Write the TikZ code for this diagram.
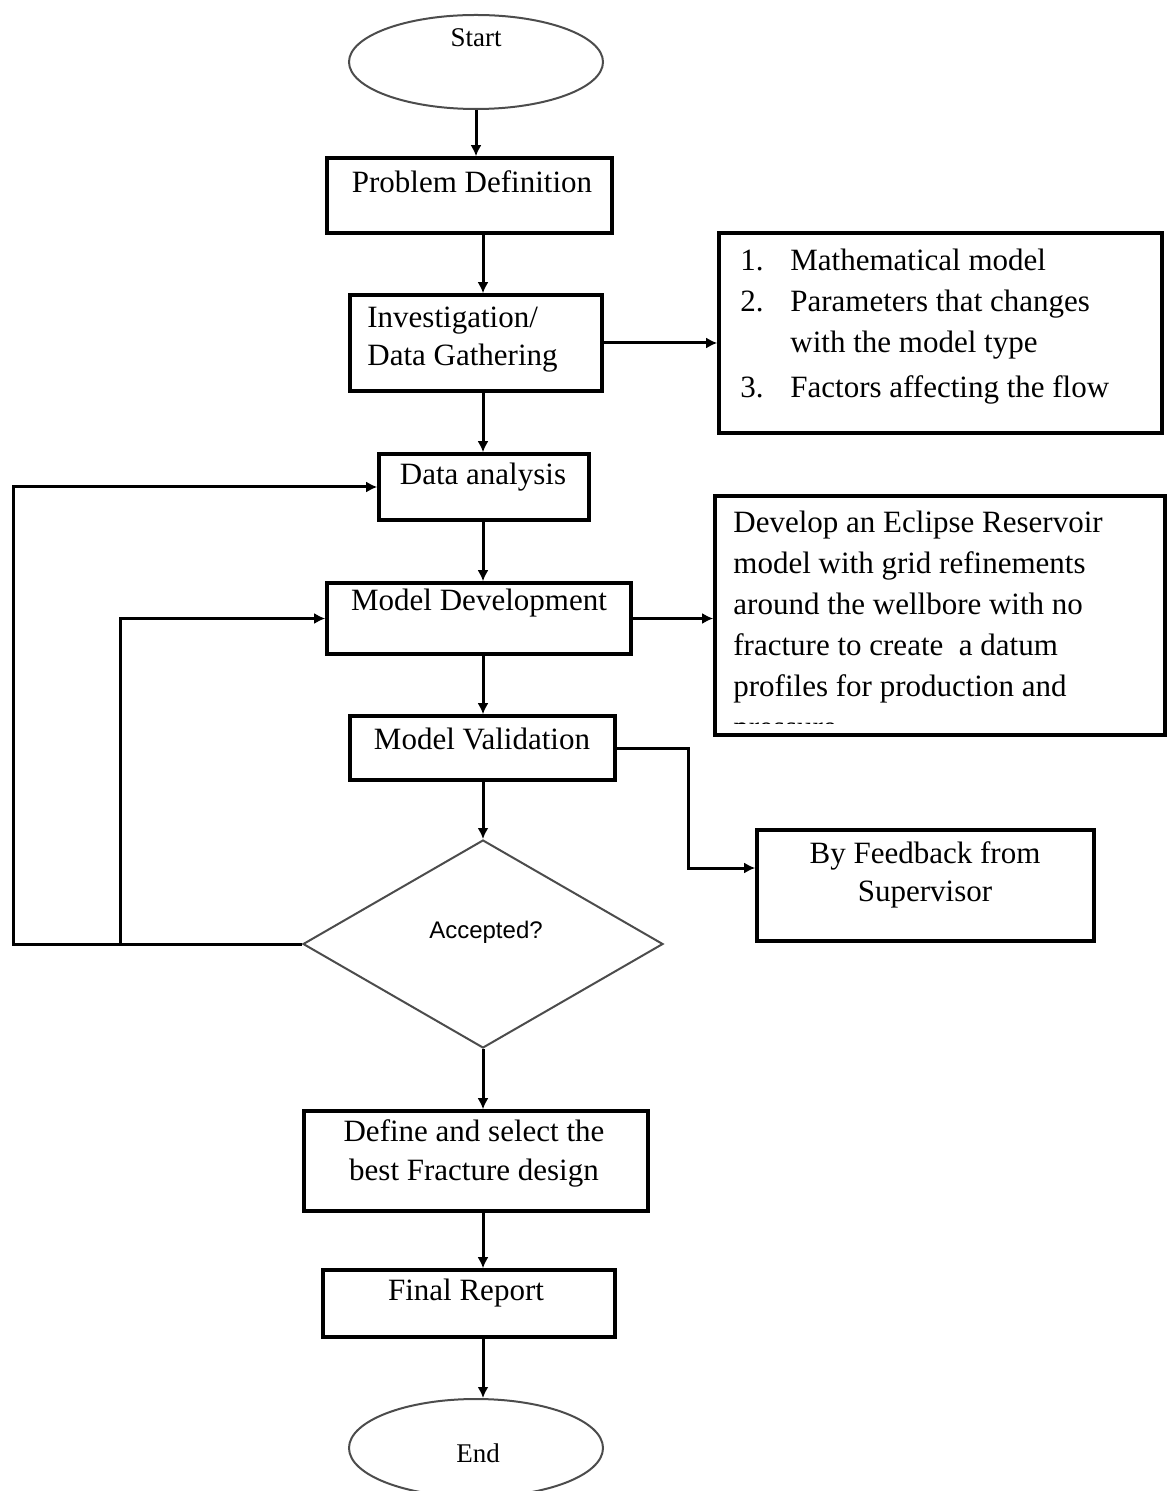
\documentclass[tikz,border=0pt]{standalone}
\usepackage{fontspec}
\setmainfont{Liberation Serif}
\setsansfont{Liberation Sans}
\usetikzlibrary{shapes.geometric,arrows.meta}

\tikzset{
	box/.style={draw, line width=1.8pt, inner sep=0pt},
	term/.style={draw=black!70, line width=1pt, ellipse, inner sep=0pt, minimum width=127pt, minimum height=47pt},
	txt/.style={inner sep=0pt, font=\fontsize{15.5}{20.5}\selectfont},
	smalltxt/.style={inner sep=0pt, font=\fontsize{13.5}{16}\selectfont},
	conn/.style={line width=1.5pt},
	arr/.style={conn, -{Latex[length=5.5pt,width=5.5pt]}}
}

\begin{document}
\begin{tikzpicture}[x=0.5pt,y=-0.5pt]
	\useasboundingbox (0,0) rectangle (1171,1491);
	\coordinate (col) at (483,0);

	\node[term] (start) at (476,62) {};
	\node[smalltxt] (startt) at (476,38) {Start};
	\node[box, minimum width=142.5pt, minimum height=37.5pt] (pd) at (469.5,195.5) {};
	\node[txt] (pdt) at (472,182) {Problem Definition};
	\node[box, minimum width=126pt, minimum height=48pt] (inv) at (476,343) {};
	\node[txt, anchor=north west, align=left] (invt) at (367,307) {Investigation/\\[-1.5pt]Data Gathering};
	\node[box, minimum width=221.5pt, minimum height=100pt] (lst) at (940.5,333) {};
	\node[txt, anchor=north west] (lstt) at (740,241) {\begin{tabular}{@{}p{25pt}@{}l@{}}
		1. & Mathematical model\\
		2. & Parameters that changes\\
		& with the model type\\[2pt]
		3. & Factors affecting the flow
	\end{tabular}};
	\node[box, minimum width=105pt, minimum height=33pt] (da) at (484,487) {};
	\node[txt] (dat) at (483,477) {Data analysis};
	\node[box, minimum width=152pt, minimum height=35.5pt] (md) at (479,618.5) {};
	\node[txt] (mdt) at (479,603) {Model Development};
	\node[box, minimum width=225pt, minimum height=119.5pt] (dev) at (940,615.5) {};
	\begin{scope}
		\clip (dev.north west) rectangle ([yshift=6.5pt]dev.south east);
		\node[txt, anchor=north west, align=left] (devt) at (733,511) {Develop an Eclipse Reservoir\\
			model with grid refinements\\
			around the wellbore with no\\
			fracture to create~ a datum\\
			profiles for production and\\
			pressure};
	\end{scope}
	\node[box, minimum width=132.5pt, minimum height=32pt] (mv) at (482.5,748) {};
	\node[txt] (mvt) at (482,739) {Model Validation};
	\node[box, minimum width=168.5pt, minimum height=55.5pt] (fb) at (925.5,885.5) {};
	\node[txt, align=center] (fbt) at (925,875) {By Feedback from\\[-1.5pt]Supervisor};
	\node[draw=black!70, line width=1pt, diamond, inner sep=0pt, minimum width=180pt, minimum height=104pt] (dec) at (483,944) {};
	\node[smalltxt, font=\sffamily\fontsize{12}{14}\selectfont] (dect) at (486,932) {Accepted?};
	\node[box, minimum width=172pt, minimum height=50pt] (sel) at (476,1161) {};
	\node[txt, align=center] (selt) at (474,1153) {Define and select the\\[-1pt]best Fracture design};
	\node[box, minimum width=146pt, minimum height=33.5pt] (fr) at (469,1303.5) {};
	\node[txt] (frt) at (466,1293) {Final Report};
	\node[term, minimum height=49pt] (stop) at (476,1448) {};
	\node[smalltxt] (stopt) at (478,1453) {End};

	\draw[arr] (start.south) -- (start.south |- pd.north);
	\foreach \a/\b in {pd/inv, inv/da, da/md, md/mv, sel/fr, fr/stop}
		\draw[arr] (\a.south -| col) -- (\b.north -| col);
	\draw[arr] (mv.south -| col) -- (dec.north);
	\draw[arr] (dec.south) -- (sel.north -| col);

	\draw[arr] (inv.east) -- (inv.east -| lst.west);
	\draw[arr] (md.east) -- (md.east -| dev.west);
	\coordinate (k) at (688,748);
	\draw[arr] (mv.east) -- (k) |- ([yshift=8.75pt]fb.west);

	\coordinate (l1) at (13,944);
	\coordinate (l2) at (120,944);
	\draw[arr] (dec.west) -- (l1) |- (da.west);
	\draw[arr] (l2) |- (md.west);
\end{tikzpicture}
\end{document}
